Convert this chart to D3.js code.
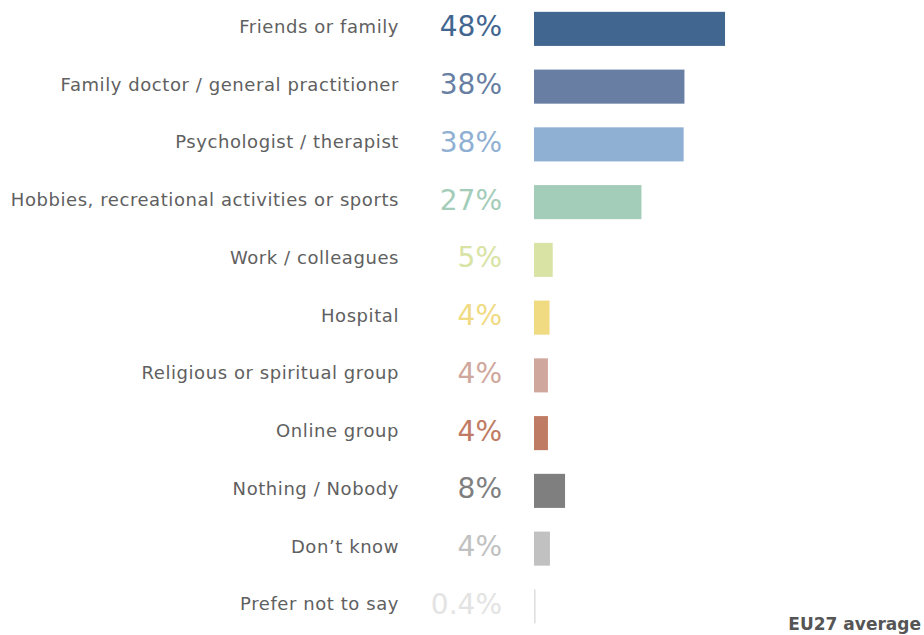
<!DOCTYPE html>
<html><head><meta charset="utf-8">
<script src="https://cdn.jsdelivr.net/npm/d3@7"></script>
<style>body{margin:0;background:#fff}svg{display:block}</style>
</head><body>
<svg id="c" width="924" height="635"></svg>
<script>
const categories = ["Friends or family","Family doctor / general practitioner","Psychologist / therapist","Hobbies, recreational activities or sports","Work / colleagues","Hospital","Religious or spiritual group","Online group","Nothing / Nobody","Don\u2019t know","Prefer not to say"];
const values = [48,37.8,37.6,27,4.7,3.9,3.5,3.5,7.8,4.0,0.4];
const valueLabels = ["48%","38%","38%","27%","5%","4%","4%","4%","8%","4%","0.4%"];
const colors = ["#41668f","#687fa3","#8fb0d3","#a4cdb9","#d8e3a4","#f0da82","#d0a79c","#c07b64","#7f7f7f","#c1c1c1","#e0e0e0"];
const textColors = ["#41668f","#687fa3","#8fb0d3","#a4cdb9","#d8e3a4","#f0da82","#d0a79c","#c07b64","#7f7f7f","#c1c1c1","#e3e3e3"];
const note = "EU27 average";

const svg = d3.select("#c");
const y = d3.scaleBand().domain(categories).range([0, 635.25]).paddingInner(0.41).paddingOuter(0.205);
const x = d3.scaleLinear().domain([0, 50]).range([534, 733]);
const font = "'DejaVu Sans', Verdana, sans-serif";

const rows = svg.selectAll("g.row").data(categories).join("g").attr("class","row");
rows.append("rect")
  .attr("x", x(0)).attr("y", d => y(d))
  .attr("width", (d,i) => Math.max(1.2, x(values[i]) - x(0)))
  .attr("height", y.bandwidth())
  .attr("fill", (d,i) => colors[i]);
rows.append("text")
  .attr("x", 399).attr("y", d => y(d) + y.bandwidth()/2 + 4)
  .attr("text-anchor","end").attr("font-family", font).attr("font-size", 18)
  .attr("letter-spacing", "0.57px")
  .attr("fill","#606060").text(d => d);
rows.append("text")
  .attr("x", 502).attr("y", d => y(d) + y.bandwidth()/2 + 7.5)
  .attr("text-anchor","end").attr("font-family", font).attr("font-size", 28)
  .attr("fill",(d,i) => textColors[i]).text((d,i) => valueLabels[i]);
svg.append("text").attr("x", 921).attr("y", 630).attr("text-anchor","end")
  .attr("font-family", font).attr("font-weight","bold").attr("font-size", 17)
  .attr("fill","#555").text(note);
</script>
</body></html>
